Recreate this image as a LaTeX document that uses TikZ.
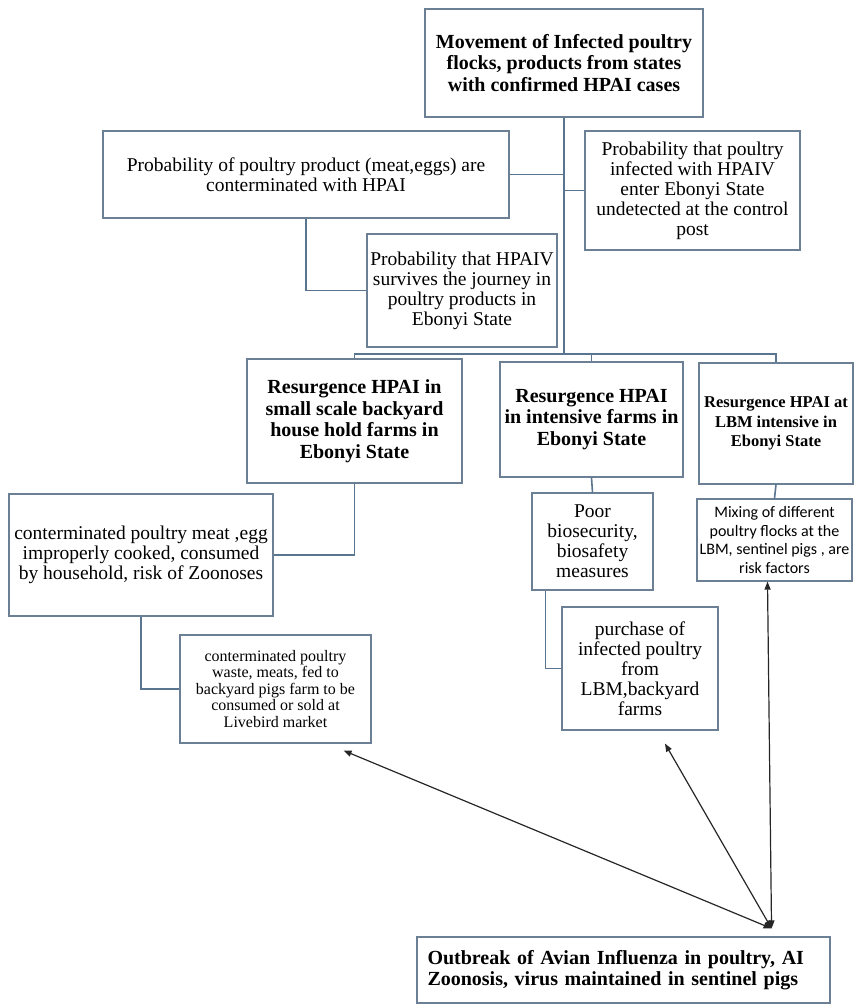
\documentclass[tikz,border=0pt]{standalone}
\usepackage{fontspec}
\setmainfont{Liberation Serif}
\newfontfamily\calibrifont{Carlito}
\usepackage{xcolor}
\definecolor{boxGris}{HTML}{6B7F95}
\definecolor{lineaGris}{HTML}{5A7590}
\usepackage{tikz}
\usetikzlibrary{arrows.meta,positioning,calc}

\begin{document}
\begin{tikzpicture}[x=1pt,y=-1pt,
  box/.style={draw=boxGris,line width=1.1pt,fill=white,align=center,inner sep=2pt,
    font=\fontsize{19.5}{20}\selectfont},
  head/.style={box,font=\fontsize{20}{21.5}\selectfont\bfseries},
  link/.style={draw=lineaGris,line width=1.6pt},
  arr/.style={{Triangle[length=8pt,width=6pt]}-{Triangle[length=8pt,width=6pt]},
    line width=1.2pt,draw=black!85}]
  \useasboundingbox (0,0) rectangle (856,1005);
  \node[head,minimum width=278pt,minimum height=108pt] (move) at (564,63)
    {Movement of Infected poultry\\flocks, products from states\\with confirmed HPAI cases};
  \node[box,minimum width=406pt,minimum height=87pt] (prodcont) at (306,174.5)
    {Probability of poultry product (meat,eggs) are\\conterminated with HPAI};
  \node[box,minimum width=215pt,minimum height=119pt] (enter) at (692.5,190.5)
    {Probability that poultry\\infected with HPAIV\\enter Ebonyi State\\undetected at the control\\post};
  \node[box,minimum width=190pt,minimum height=113pt] (survive) at (462,290.5)
    {Probability that HPAIV\\survives the journey in\\poultry products in\\Ebonyi State};
  \node[head,minimum width=215pt,minimum height=124pt] (backyard) at (354.5,421)
    {Resurgence HPAI in\\small scale backyard\\house hold farms in\\Ebonyi State};
  \node[head,minimum width=183pt,minimum height=115pt] (intensive) at (591.5,419.5)
    {Resurgence HPAI\\in intensive farms in\\Ebonyi State};
  \node[head,font=\fontsize{16.5}{19.5}\selectfont\bfseries,minimum width=154pt,
    minimum height=121pt] (lbm) at (776,423.5)
    {Resurgence HPAI at\\LBM intensive in\\Ebonyi State};
  \node[box,minimum width=264pt,minimum height=122pt] (cooked) at (141,555)
    {conterminated poultry meat ,egg\\improperly cooked, consumed\\by household, risk of Zoonoses};
  \node[box,minimum width=121pt,minimum height=97pt] (poor) at (592.5,541.5)
    {Poor\\biosecurity,\\biosafety\\measures};
  \node[box,font=\calibrifont\fontsize{16}{18.5}\selectfont,minimum width=155pt,
    minimum height=82pt,inner sep=1pt] (mixing) at (774.5,540)
    {Mixing of different\\poultry flocks at the\\LBM, sentinel pigs , are\\risk factors};
  \node[box,minimum width=156pt,minimum height=123pt] (purchase) at (640,668.5)
    {purchase of\\infected poultry\\from\\LBM,backyard\\farms};
  \node[box,font=\fontsize{16}{16.5}\selectfont,minimum width=191pt,
    minimum height=108pt] (waste) at (275.5,689)
    {conterminated poultry\\waste, meats, fed to\\backyard pigs farm to be\\consumed or sold at\\Livebird market};
  \node[head,align=left,text width=392pt,minimum width=413pt,minimum height=66pt]
    (outbreak) at (623.5,970)
    {Outbreak of Avian Influenza in poultry, AI\\Zoonosis, virus maintained in sentinel pigs};
  % tree links
  \coordinate (bus) at (564,354);
  \draw[link] (move.south) -- (bus) -| (backyard.north);
  \draw[link] (bus) -| (intensive.north);
  \draw[link] (bus) -| (lbm.north);
  \draw[link] (prodcont.east) -- (prodcont.east -| bus);
  \draw[link] (enter.west) -- (enter.west -| bus);
  \draw[link] (prodcont.south) |- (survive.west);
  \draw[link] (backyard.south) |- (cooked.east);
  \draw[link] (cooked.south) |- (waste.west);
  \draw[link] (intensive.south) -- (poor.north);
  \draw[link] ([xshift=-47pt]poor.south) |- (purchase.west);
  \draw[link] (lbm.south) -- (mixing.north);
  % outbreak arrows
  \coordinate (hub) at ([shift={(-59,-8)}]outbreak.north east);
  \draw[arr] (hub) -- ([shift={(-28,7)}]waste.south east);
  \draw[arr] (hub) -- ([shift={(25,13)}]purchase.south);
  \draw[arr] (hub) -- ([xshift=-7pt]mixing.south);
\end{tikzpicture}
\end{document}
